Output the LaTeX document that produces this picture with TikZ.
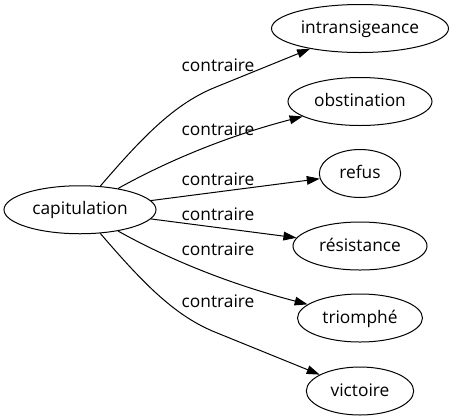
\documentclass[tikz,border=0pt]{standalone}
\usepackage{fontspec}
\setmainfont{Open Sans}
\usetikzlibrary{arrows.meta,shapes.geometric}
\begin{document}
\begin{tikzpicture}[x=0.75pt,y=-0.75pt,
  word/.style={ellipse,draw,line width=0.75pt,inner sep=0pt,minimum height=36pt,
    font=\fontsize{13}{15}\selectfont,text height=9.75pt,text depth=2.25pt},
  rel/.style={font=\fontsize{13}{15}\selectfont,anchor=base,inner sep=0pt},
  link/.style={draw,line width=0.75pt,-{Triangle[length=9.75pt,width=6.5pt]}}]
\useasboundingbox (0,0) rectangle (454,419);
\node[word,minimum width=114pt] (cap) at (80,209.75) {capitulation};
\node[word,minimum width=132.75pt] (intr) at (360,28.5) {intransigeance};
\node[word,minimum width=108pt] (obst) at (360,101.5) {obstination};
\node[word,minimum width=61pt] (refus) at (360,173.5) {refus};
\node[word,minimum width=100.5pt] (res) at (360,246) {résistance};
\node[word,minimum width=93.75pt] (tri) at (360,318) {triomphé};
\node[word,minimum width=80.5pt] (vic) at (360,391) {victoire};
\node[rel] (l1) at (218,71.7) {contraire};
\node[rel] (l2) at (218,135) {contraire};
\node[rel] (l3) at (218,185) {contraire};
\node[rel] (l4) at (218,220) {contraire};
\node[rel] (l5) at (218,255.5) {contraire};
\node[rel] (l6) at (218,307.3) {contraire};
\draw[link] (cap) .. controls (145,134) and (176,103) .. (216,87) -- (intr);
\draw[link] (cap) .. controls (160,165) and (220,138) .. (obst);
\draw[link] (cap) -- (refus);
\draw[link] (cap) -- (res);
\draw[link] (cap) .. controls (160,254.5) and (220,281.5) .. (tri);
\draw[link] (cap) .. controls (145,285.5) and (176,316.5) .. (216,332.5) -- (vic);
\end{tikzpicture}
\end{document}
